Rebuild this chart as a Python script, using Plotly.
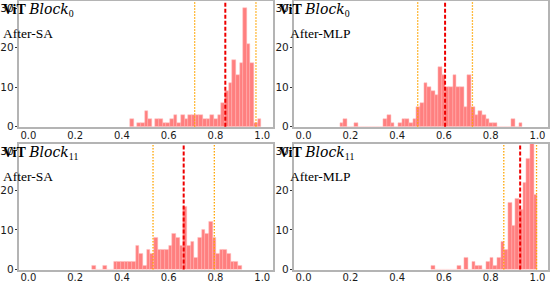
import numpy as np
import plotly.graph_objects as go

# ---------------- data ----------------
bin_width = 1 / 64

sa0_start = 0.434
sa0_counts = [2, 0, 1, 1, 4, 2, 0, 2, 2, 1, 1, 2, 3, 1, 3, 2, 3, 3, 3, 3, 2, 2, 3, 2, 3,
              6, 9, 11, 17, 13, 16, 30, 21, 16, 1, 2]

mlp0_start = 0.1545
mlp0_counts = [1, 2, 0, 0, 1, 0, 0, 0, 0, 0, 0, 0, 2, 3, 1, 0, 1, 2, 2, 1, 2, 5, 6, 11, 10,
               9, 8, 15, 13, 10, 10, 13, 10, 10, 5, 13, 5, 3, 4, 3, 2, 1, 1, 0, 0, 0, 0, 2, 0, 1]

sa11_start = 0.2716
sa11_counts = [1, 0, 0, 1, 0, 0, 2, 2, 2, 2, 2, 2, 6, 4, 1, 5, 4, 8, 5, 5, 5, 6, 9, 8, 6,
               16, 6, 7, 3, 8, 10, 9, 12, 8, 4, 5, 5, 4, 2, 2, 1]

mlp11_start = 0.547
mlp11_counts = [1, 0, 0, 0, 0, 0, 0, 1, 0, 3, 0, 2, 1, 1, 0, 2, 3, 1, 3, 7, 5, 17, 11, 18,
                15, 22, 28, 33, 19]

panel_starts = [sa0_start, mlp0_start, sa11_start, mlp11_start]
panel_counts = [sa0_counts, mlp0_counts, sa11_counts, mlp11_counts]
panel_blocks = ["0", "0", "11", "11"]
panel_stages = ["After-SA", "After-MLP", "After-SA", "After-MLP"]
panel_means = [0.842, 0.605, 0.664, 0.926]
panel_stds = [0.131, 0.117, 0.131, 0.070]

x_ticks = [0.0, 0.2, 0.4, 0.6, 0.8, 1.0]
x_tick_labels = ["0.0", "0.2", "0.4", "0.6", "0.8", "1.0"]
y_ticks = [0, 10, 20, 30]
y_tick_labels = ["0", "10", "20", "30"]

# ---------------- layout geometry ----------------
W, H = 550, 282
col_px = [(19.0, 272.8), (294.2, 548.0)]
row_px = [(1.0, 126.7), (143.7, 269.5)]
x_range = [-0.04, 1.045]
y_range = [0, 31.8]

fig = go.Figure()
layout = dict(
    template="none",
    width=W, height=H,
    margin=dict(l=0, r=0, t=0, b=0, pad=0),
    paper_bgcolor="white", plot_bgcolor="white",
    showlegend=False, bargap=0,
)

annotations = []
shapes = []
x_tick_font = dict(family="DejaVu Sans", size=10, color="#1a1a1a")
y_tick_font = dict(family="DejaVu Sans", size=10.5, color="#1a1a1a")
spine = "#b4b4b4"

for i in range(4):
    r, c = divmod(i, 2)
    ax = "" if i == 0 else str(i + 1)
    xa, ya = "x" + ax, "y" + ax
    counts = np.array(panel_counts[i])
    edges = panel_starts[i] + bin_width * np.arange(len(counts) + 1)
    centers = (edges[:-1] + edges[1:]) / 2
    fig.add_trace(go.Bar(
        x=centers, y=counts, width=bin_width,
        marker=dict(color="rgba(255,0,0,0.5)",
                    line=dict(color="rgba(255,190,190,1)", width=0.5)),
        xaxis=xa, yaxis=ya, hoverinfo="skip"))

    x0, x1 = col_px[c]
    top, bot = row_px[r]
    layout["xaxis" + ax] = dict(
        domain=[x0 / W, x1 / W], range=x_range, anchor=ya, automargin=False,
        tickvals=x_ticks, ticktext=x_tick_labels, ticks="",
        ticklabelstandoff=-2, tickfont=x_tick_font,
        showline=True, linecolor=spine, linewidth=1.6, mirror=True,
        showgrid=False, zeroline=False, fixedrange=True)
    layout["yaxis" + ax] = dict(
        domain=[1 - bot / H, 1 - top / H], range=y_range, anchor=xa, automargin=False,
        tickvals=y_ticks, ticktext=y_tick_labels, ticks="outside", ticklen=2.5,
        ticklabelstandoff=-1,
        tickwidth=0.8, tickcolor="#333333", tickfont=y_tick_font,
        showline=True, linecolor=spine, linewidth=1.6, mirror=True,
        showgrid=False, zeroline=False, fixedrange=True)

    m, s = panel_means[i], panel_stds[i]
    for xv in (m - s, m + s):
        shapes.append(dict(type="line", xref=xa, yref=ya + " domain", x0=xv, x1=xv,
                           y0=0, y1=1, layer="above",
                           line=dict(color="#ffa500", width=1.3, dash="1.5px,1.5px")))
    shapes.append(dict(type="line", xref=xa, yref=ya + " domain", x0=m, x1=m,
                       y0=0, y1=1, layer="above",
                       line=dict(color="#ee0000", width=2, dash="4px,2px")))

    vit_x = [1.0, 277.0][c]
    vit_y = top + 9.0
    after_x = [0.5, 287.5][c]
    after_y = top + 33.0
    annotations.append(dict(
        xref="paper", yref="paper", x=vit_x / W, y=1 - vit_y / H,
        xanchor="left", yanchor="middle", showarrow=False,
        text=("<b>ViT</b> <span style=\"font-family:'DejaVu Serif';font-style:italic\">Block</span>"
              "<sub>" + panel_blocks[i] + "</sub>"),
        font=dict(family="Liberation Serif", size=14, color="black")))
    annotations.append(dict(
        xref="paper", yref="paper", x=after_x / W, y=1 - after_y / H,
        xanchor="left", yanchor="middle", showarrow=False,
        text=panel_stages[i],
        font=dict(family="Liberation Serif", size=13.5, color="black")))

layout["annotations"] = annotations
layout["shapes"] = shapes
fig.update_layout(**layout)
fig.write_html("out.html", config={"displayModeBar": False},
               post_script="document.body.style.margin='0';document.body.style.padding='0';")
